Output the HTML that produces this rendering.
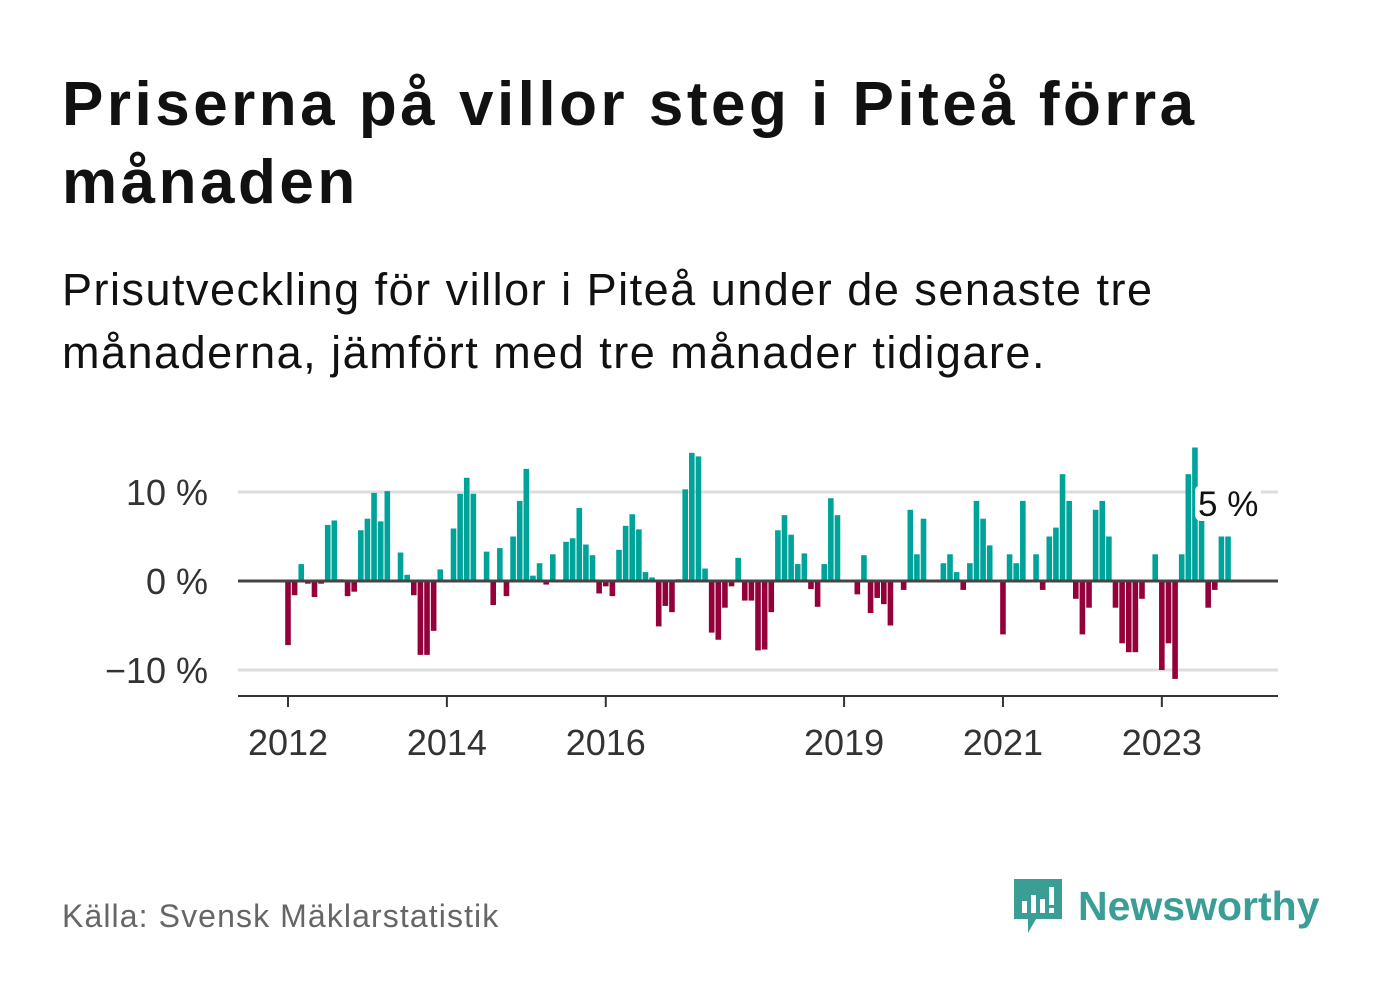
<!DOCTYPE html>
<html><head><meta charset="utf-8"><style>
body{margin:0;width:1382px;height:999px;background:#fff;font-family:"Liberation Sans",sans-serif;overflow:hidden;position:relative}
h1{position:absolute;left:62px;top:66px;margin:0;font-size:62px;line-height:78px;font-weight:bold;color:#111;width:1300px;letter-spacing:3.5px;white-space:nowrap}
.sub{position:absolute;left:62px;top:258px;margin:0;font-size:45px;line-height:63px;color:#111;width:1300px;letter-spacing:1.5px;white-space:nowrap}
.src{position:absolute;left:62px;top:898px;font-size:32px;color:#666;letter-spacing:1.1px}
.logo{position:absolute;left:1012px;top:876px;display:flex;align-items:center}
.logo span{font-size:41px;font-weight:bold;color:#3a9e96;margin-left:14px}
</style></head><body>
<h1>Priserna på villor steg i Piteå förra<br>månaden</h1>
<p class="sub">Prisutveckling för villor i Piteå under de senaste tre<br>månaderna, jämfört med tre månader tidigare.</p>
<svg id="chart" width="1382" height="999" style="position:absolute;left:0;top:0"></svg>
<div class="src">Källa: Svensk Mäklarstatistik</div>
<div class="logo">
<svg width="52" height="60" viewBox="0 0 52 58"><path d="M2 2h48v40H24l-8 14v-14H2z" fill="#3a9e96"/><rect x="10" y="24" width="5" height="12" fill="#fff"/><rect x="19" y="18" width="5" height="18" fill="#fff"/><rect x="28" y="22" width="5" height="14" fill="#fff"/><rect x="37" y="10" width="5" height="18" fill="#fff"/><rect x="37" y="31" width="5" height="5" fill="#fff"/></svg>
<span>Newsworthy</span></div>
<script>
const values=[-7.2,-1.6,1.9,-0.3,-1.8,-0.3,6.3,6.8,0.2,-1.7,-1.2,5.7,
7.0,9.9,6.7,10.1,0,3.2,0.7,-1.6,-8.3,-8.3,-5.6,1.3,
0,5.9,9.8,11.6,9.8,0,3.3,-2.7,3.7,-1.7,5.0,9.0,
12.6,0.6,2.0,-0.4,3.0,0,4.4,4.8,8.2,4.1,2.9,-1.4,
-0.6,-1.7,3.5,6.2,7.5,5.8,1.0,0.4,-5.1,-2.8,-3.5,0.2,
10.3,14.4,14.0,1.4,-5.8,-6.6,-3.0,-0.6,2.6,-2.2,-2.2,-7.8,
-7.7,-3.5,5.7,7.4,5.2,1.9,3.1,-0.9,-2.9,1.9,9.3,7.4,
0,0,-1.5,2.9,-3.6,-1.9,-2.6,-5.0,0,-1.0,8.0,3.0,
7.0,0,0,2.0,3.0,1.0,-1.0,2.0,9.0,7.0,4.0,0,
-6.0,3.0,2.0,9.0,0,3.0,-1.0,5.0,6.0,12.0,9.0,-2.0,
-6.0,-3.0,8.0,9.0,5.0,-3.0,-7.0,-8.0,-8.0,-2.0,0,3.0,
-10.0,-7.0,-11.0,3.0,12.0,15.0,7.0,-3.0,-1.0,5.0,5.0];
const startYear=2012;
const tickYears=[2012,2014,2016,2019,2021,2023];
const yTicks=[10,0,-10];
const yTickLabels=["10 %","0 %","−10 %"];
const lastLabel="5 %";
const NS="http://www.w3.org/2000/svg";
const svg=document.getElementById('chart');
const X0=288,MW=6.62,Y0=581,PY=8.9;
const x=i=>X0+i*MW;
const y=v=>Y0-v*PY;
function mk(t,a){const e=document.createElementNS(NS,t);for(const k in a)e.setAttribute(k,a[k]);svg.appendChild(e);return e;}
yTicks.forEach((t,k)=>{
 if(t!==0){const g=mk('line',{x1:238,x2:1278,y1:y(t),y2:y(t),stroke:'#ddd','stroke-width':3});
 
 }
 const l=mk('text',{x:208,y:y(t)+13,'text-anchor':'end','font-size':36,fill:'#333','font-family':'Liberation Sans, sans-serif'});
 l.textContent=yTickLabels[k];
 
 
});
values.forEach((v,i)=>{
 if(v===0)return;
 const r=mk('rect',{x:x(i)-2.8,width:5.6,y:v>0?y(v):Y0,height:Math.abs(v)*PY,fill:v>0?'#00a39a':'#93003a'});
 
 
});
const z=mk('line',{x1:238,x2:1278,y1:Y0,y2:Y0,stroke:'#444','stroke-width':3});


const ax=mk('line',{x1:238,x2:1278,y1:696,y2:696,stroke:'#333','stroke-width':2});


tickYears.forEach(yr=>{
 const xi=x((yr-startYear)*12);
 const tk=mk('line',{x1:xi,x2:xi,y1:696,y2:707,stroke:'#333','stroke-width':2});
 
 
 const t=mk('text',{x:xi,y:755,'text-anchor':'middle','font-size':36,fill:'#333','font-family':'Liberation Sans, sans-serif'});
 t.textContent=yr;
 
 
});
const li=values.length-1;
const bx=x(li)-33;
const bg=mk('rect',{x:bx,y:485,width:66,height:36,rx:6,fill:'#fff'});


const lt=mk('text',{x:bx+3,y:516,'font-size':35,fill:'#111','font-family':'Liberation Sans, sans-serif'});
lt.textContent=lastLabel;


</script>
</body></html>
